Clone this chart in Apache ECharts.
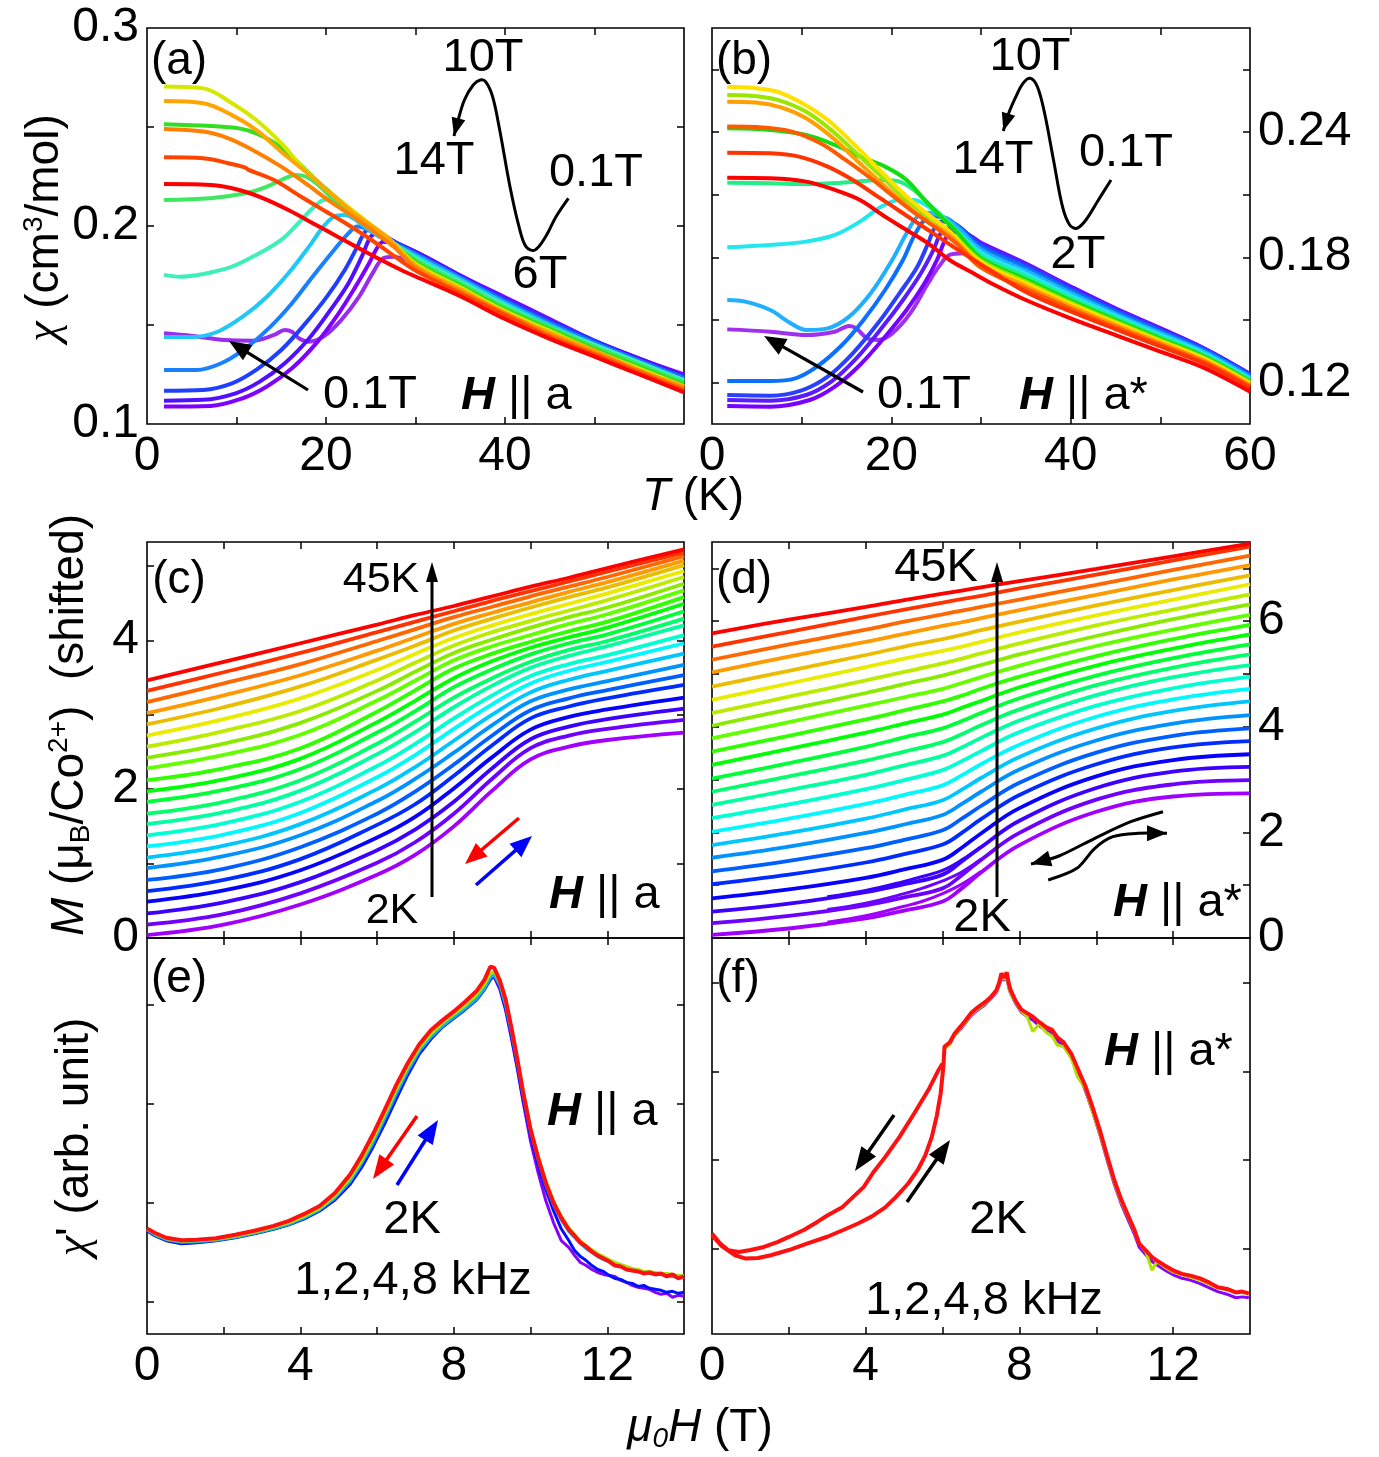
<!DOCTYPE html>
<html><head><meta charset="utf-8">
<script src="https://cdn.jsdelivr.net/npm/echarts@6/dist/echarts.min.js"></script>
<style>html,body{margin:0;padding:0;background:#fff}#chart{width:1379px;height:1457px}</style>
</head><body><div id="chart"></div>
<script>
// ---------------- DATA ----------------
// (a) chi(T), H || a : [T (K), chi (cm3/mol)]
const chiA_p01 = [[1.9,.1458],[5.1,.1445],[8.7,.1424],[11.8,.1421],[14.2,.145],[15.4,.1475],[16.2,.1466],[17,.1432],[18.1,.1416],[19.7,.1441],[21.7,.1525],[23.7,.1643],[25.2,.1761],[26.4,.1837],[27.6,.1845],[29.2,.1828],[29.9,.1828]];
const chiA_violet = [[1.9,.1088],[7.1,.1091],[10.7,.113],[13.4,.1189],[16.2,.1281],[18.9,.1407],[21.3,.1551],[23.3,.1694],[24.8,.1811],[25.8,.1896],[26.4,.1921],[27.4,.1913],[30,.187],[35,.175],[40,.164],[45,.153],[50,.142],[55,.133],[60,.125]];
const chiA_indigo = [[1.9,.1118],[6.3,.1122],[9.9,.1155],[12.6,.1214],[15.4,.1307],[18.1,.1432],[20.5,.1576],[22.5,.171],[24,.1845],[25,.1946],[25.8,.1963],[26.8,.1938],[30,.187],[35,.175],[40,.163],[45,.152],[50,.142],[55,.133],[60,.124]];
const chiA_blue = [[1.9,.1168],[6.3,.1172],[9.5,.1205],[12.2,.1273],[15,.1374],[17.7,.1508],[20.1,.1643],[22.1,.1778],[23.5,.1896],[24.4,.1972],[25.2,.1983],[26.4,.1954],[30,.186],[35,.174],[40,.163],[45,.152],[50,.142],[55,.132],[60,.124]];
const chiA_azure = [[1.9,.1273],[5.5,.1273],[8.3,.1307],[11,.1382],[13.8,.1492],[16.2,.161],[18.5,.1744],[20.9,.1879],[22.5,.1963],[23.5,.1997],[24.4,.1988],[26,.1946],[30,.186],[35,.174],[40,.162],[45,.151],[50,.141],[55,.132],[60,.123]];
const chiA_sky = [[1.9,.144],[5.1,.144],[7.9,.1466],[10.7,.1542],[13.4,.1643],[15.8,.1761],[18.1,.1896],[19.7,.1997],[20.9,.2047],[22.1,.2055],[23.3,.2031],[24.8,.198],[30,.185],[35,.173],[40,.161],[45,.150],[50,.140],[55,.131],[60,.122]];
const chiA_aqua = [[1.9,.1753],[3.6,.1744],[6.3,.1758],[9.5,.1795],[12.2,.1854],[15,.193],[16.9,.2014],[18.5,.209],[19.7,.2131],[20.7,.2135],[21.7,.2106],[23.3,.2047],[24.8,.1997],[30,.184],[35,.172],[40,.160],[45,.149],[50,.140],[55,.131],[60,.122]];
const chiA_green = [[1.9,.2131],[7.1,.214],[11,.2165],[13.4,.2199],[15.4,.2241],[16.6,.2258],[17.7,.225],[18.9,.2216],[20.5,.2148],[22.1,.2081],[23.7,.2031],[25.2,.1988],[30,.183],[35,.171],[40,.159],[45,.149],[50,.139],[55,.130],[60,.121]];
const chiA_lime = [[1.9,.2514],[7.1,.2505],[10.3,.2493],[12.2,.2468],[14.6,.2409],[17,.2316],[19.3,.2216],[21.7,.2123],[23.7,.2047],[25.2,.1997],[30,.182],[35,.170],[40,.158],[45,.148],[50,.138],[55,.129],[60,.120]];
const chiA_yellow = [[1.9,.2704],[6.3,.2695],[9.5,.262],[12.2,.2535],[15,.2418],[17.3,.23],[20.1,.2182],[22.9,.2081],[24.8,.2014],[27.3,.1925],[30,.181],[35,.169],[40,.157],[45,.147],[50,.137],[55,.128],[60,.119]];
const chiA_orange = [[1.9,.2631],[6.3,.262],[9.5,.256],[12.2,.2485],[15,.2375],[17.7,.2275],[20.5,.2165],[22.9,.2072],[25.2,.1997],[26.8,.1944],[30,.180],[35,.168],[40,.156],[45,.146],[50,.137],[55,.127],[60,.119]];
const chiA_dkorange = [[1.9,.249],[6.3,.2477],[9.1,.2443],[11.8,.2384],[15,.23],[17.7,.2216],[20.5,.2123],[23.3,.2039],[25.6,.1963],[27.6,.1894],[30,.179],[35,.167],[40,.156],[45,.145],[50,.136],[55,.127],[60,.118]];
const chiA_redorange = [[1.9,.2347],[6.3,.2342],[9.1,.2317],[11,.2295],[11.3,.2285],[14.2,.2232],[16.9,.2157],[19.7,.2081],[22.5,.2005],[24.8,.1938],[27.2,.1862],[30,.1775],[35,.166],[40,.155],[45,.144],[50,.135],[55,.126],[60,.117]];
const chiA_red = [[1.9,.2212],[7.1,.2207],[10.3,.2182],[13,.214],[15.8,.2081],[18.9,.2005],[21.3,.1946],[23.7,.1887],[26,.1832],[28.4,.1778],[30,.1745],[35,.1645],[40,.153],[45,.143],[50,.134],[55,.125],[60,.116]];

// (b) chi(T), H || a*
const chiB_yellow = [[1.7,.2618],[4.5,.2613],[7.3,.2594],[10.1,.2538],[12.9,.2459],[15.7,.2347],[18.5,.2227],[21.3,.2107],[23.7,.2019],[26.1,.1939],[30,.1776],[35,.1674],[40,.1575],[45,.1485],[50,.1397],[55,.131],[60,.1195]];
const chiB_ygreen = [[1.7,.2578],[4.5,.2574],[7.3,.2555],[10.5,.2498],[13.3,.241],[16.1,.2299],[18.9,.2187],[21.7,.2075],[24.1,.1995],[26.5,.1923],[30,.1785],[35,.1683],[40,.1583],[45,.1491],[50,.1403],[55,.1315],[60,.1199]];
const chiB_orange = [[1.7,.2546],[4.9,.2542],[7.7,.2519],[10.5,.2467],[13.3,.2379],[16.1,.2267],[18.9,.2155],[21.7,.2051],[24.1,.1971],[26.5,.1907],[30,.1764],[35,.1662],[40,.1565],[45,.1476],[50,.139],[55,.1303],[60,.1188]];
const chiB_ored = [[1.7,.2427],[5.7,.2423],[8.9,.2403],[12.1,.2347],[14.9,.2267],[17.7,.2179],[20.5,.2083],[22.9,.2003],[25.3,.1931],[27.3,.1865],[30,.175],[35,.1648],[40,.1553],[45,.1465],[50,.1381],[55,.1296],[60,.1181]];
const chiB_green = [[1.7,.2419],[6.5,.2411],[10.5,.2387],[13.7,.2339],[16.5,.2283],[19.3,.2235],[21.7,.2171],[23.7,.2075],[25.7,.1987],[27.3,.1921],[30,.1795],[35,.1694],[40,.1592],[45,.1499],[50,.141],[55,.1321],[60,.1204]];
const chiB_rorange = [[1.7,.2302],[6.5,.2299],[9.7,.2283],[12.9,.2235],[15.7,.2171],[18.5,.2091],[21.3,.2011],[24.1,.1931],[26.5,.1862],[28.9,.1795],[30,.1765],[35,.1634],[40,.154],[45,.1455],[50,.1372],[55,.1288],[60,.1174]];
const chiB_red = [[1.7,.2182],[6.5,.2179],[10.5,.2163],[13.7,.2123],[16.5,.2075],[19.3,.1995],[21.7,.1931],[24.1,.1867],[26.5,.1787],[28.9,.1729],[31.3,.1672],[35,.1595],[40,.1507],[45,.1427],[50,.1347],[55,.1267],[60,.1155]];
const chiB_spring = [[1.7,.2158],[6.5,.2155],[10.5,.2151],[14.5,.2158],[17.3,.2167],[19.3,.2171],[20.9,.2163],[22.5,.2123],[24.5,.2043],[26.5,.1963],[30,.1808],[35,.1708],[40,.1604],[45,.1509],[50,.1419],[55,.1328],[60,.1211]];
const chiB_cyan = [[1.7,.1848],[6.5,.1859],[10.5,.1875],[13.7,.1907],[16.5,.1971],[18.9,.2043],[20.9,.2075],[22.5,.2075],[24.1,.2043],[26.1,.1979],[30,.1822],[35,.1722],[40,.1616],[45,.1519],[50,.1428],[55,.1336],[60,.1218]];
const chiB_sky = [[1.7,.1595],[3.7,.1587],[6.5,.1547],[8.5,.1491],[10.5,.1451],[12.9,.1459],[15.3,.1515],[17.7,.1627],[20.1,.1787],[21.7,.1915],[22.9,.1995],[24.1,.2014],[25.7,.1995],[27.3,.1947],[30,.1836],[35,.1736],[40,.1629],[45,.1529],[50,.1437],[55,.1344],[60,.1225]];
const chiB_p01 = [[1.7,.1454],[6.5,.1443],[10.5,.1427],[13.7,.1443],[15.3,.147],[16.1,.1459],[17.3,.1411],[18.5,.1403],[20.1,.1435],[22.1,.1531],[24.1,.1675],[25.3,.1755],[26.5,.1811],[28.1,.1819],[29.7,.1803],[31.3,.1771]];
const chiB_azure = [[1.7,.1206],[6.5,.1206],[9.3,.1219],[11.7,.1275],[14.5,.1379],[16.9,.1499],[19.3,.1643],[21.3,.1787],[22.5,.1899],[23.7,.1979],[24.9,.1995],[26.5,.1979],[30,.1849],[35,.175],[40,.1641],[45,.154],[50,.1446],[55,.1351],[60,.1232]];
const chiB_blue = [[1.7,.1139],[6.5,.1136],[10.1,.1163],[12.9,.1227],[15.7,.1339],[18.5,.1483],[20.9,.1627],[22.9,.1755],[24.1,.1867],[24.9,.1947],[25.7,.1971],[27.3,.1955],[30,.1858],[35,.1759],[40,.1648],[45,.1546],[50,.1451],[55,.1356],[60,.1237]];
const chiB_indigo = [[1.7,.1115],[6.5,.1112],[10.5,.1139],[13.3,.1203],[16.1,.1315],[18.9,.1459],[21.3,.1595],[23.3,.1723],[24.7,.1835],[25.5,.1915],[26.3,.1939],[27.7,.1931],[30,.1865],[35,.1766],[40,.1655],[45,.1551],[50,.1456],[55,.136],[60,.124]];
const chiB_violet = [[1.7,.1086],[6.5,.1083],[10.9,.1115],[13.7,.1179],[16.5,.1283],[19.3,.1419],[21.7,.1547],[23.7,.1675],[25.1,.1787],[25.9,.1875],[26.5,.1915],[27.7,.1923],[30,.187],[35,.177],[40,.166],[45,.1555],[50,.146],[55,.136],[60,.124]];

// (c) M(H), H || a, shifted; rows from 2 K (bottom) to 45 K (top)
const fieldC = [0,2,4,6,7,8,9,10,11,12,14];
const magC = [
 [0.04,0.18,0.45,0.85,1.12,1.50,1.98,2.40,2.57,2.66,2.76],
 [0.18,0.32,0.60,1.01,1.29,1.67,2.14,2.55,2.72,2.81,2.93],
 [0.33,0.48,0.75,1.18,1.46,1.83,2.28,2.67,2.84,2.94,3.08],
 [0.49,0.64,0.91,1.35,1.63,2.01,2.43,2.80,2.97,3.07,3.23],
 [0.63,0.78,1.06,1.52,1.80,2.18,2.59,2.95,3.11,3.22,3.40],
 [0.78,0.93,1.22,1.67,1.97,2.33,2.72,3.06,3.22,3.33,3.53],
 [0.94,1.10,1.38,1.84,2.14,2.49,2.86,3.18,3.34,3.45,3.67],
 [1.08,1.24,1.53,2.00,2.30,2.65,3.00,3.30,3.47,3.59,3.82],
 [1.23,1.39,1.68,2.16,2.46,2.81,3.14,3.42,3.59,3.71,3.96],
 [1.38,1.54,1.83,2.31,2.61,2.95,3.26,3.52,3.68,3.80,4.07],
 [1.53,1.69,1.98,2.47,2.77,3.10,3.39,3.63,3.79,3.92,4.20],
 [1.67,1.83,2.12,2.61,2.91,3.23,3.49,3.71,3.87,3.99,4.29],
 [1.83,1.99,2.27,2.76,3.05,3.37,3.61,3.81,3.96,4.08,4.39],
 [1.97,2.13,2.41,2.90,3.19,3.49,3.72,3.90,4.04,4.17,4.49],
 [2.12,2.28,2.55,3.04,3.33,3.62,3.82,3.98,4.12,4.25,4.58],
 [2.28,2.46,2.73,3.19,3.46,3.73,3.92,4.07,4.22,4.35,4.67],
 [2.42,2.61,2.89,3.32,3.58,3.83,4.01,4.17,4.31,4.44,4.76],
 [2.57,2.78,3.05,3.46,3.70,3.93,4.11,4.26,4.40,4.54,4.85],
 [2.72,2.94,3.22,3.60,3.82,4.03,4.20,4.35,4.49,4.63,4.93],
 [2.87,3.10,3.38,3.74,3.93,4.13,4.29,4.44,4.58,4.71,5.01],
 [3.02,3.26,3.53,3.86,4.04,4.22,4.37,4.51,4.65,4.78,5.07],
 [3.17,3.42,3.68,3.99,4.15,4.31,4.45,4.59,4.72,4.85,5.13],
 [3.32,3.57,3.83,4.11,4.25,4.39,4.53,4.66,4.79,4.92,5.18],
 [3.46,3.71,3.96,4.21,4.34,4.46,4.59,4.72,4.84,4.97,5.22]
];

// (d) M(H), H || a*, shifted
const fieldD = [0,2,4,5,6,6.5,7,8,10,12,14];
const magD = [
 [0.06,0.18,0.37,0.52,0.69,0.94,1.24,1.76,2.39,2.68,2.74],
 [0.28,0.42,0.62,0.77,0.94,1.19,1.48,1.99,2.62,2.91,2.99],
 [0.50,0.65,0.87,1.02,1.20,1.45,1.72,2.22,2.84,3.15,3.24],
 [0.75,0.92,1.14,1.30,1.48,1.71,1.98,2.46,3.06,3.37,3.48],
 [1.02,1.20,1.43,1.59,1.77,1.99,2.25,2.71,3.29,3.61,3.73],
 [1.26,1.46,1.70,1.86,2.04,2.26,2.50,2.94,3.51,3.83,3.97],
 [1.52,1.73,1.99,2.15,2.33,2.54,2.77,3.19,3.74,4.06,4.22],
 [1.76,1.99,2.26,2.43,2.61,2.81,3.03,3.43,3.97,4.30,4.48],
 [2.01,2.26,2.54,2.71,2.89,3.08,3.29,3.66,4.19,4.52,4.72],
 [2.27,2.53,2.82,2.99,3.18,3.35,3.54,3.90,4.40,4.73,4.95],
 [2.52,2.80,3.09,3.27,3.45,3.61,3.79,4.12,4.60,4.94,5.17],
 [2.77,3.06,3.36,3.53,3.71,3.86,4.03,4.33,4.79,5.12,5.37],
 [3.02,3.31,3.62,3.80,3.97,4.11,4.26,4.54,4.97,5.30,5.56],
 [3.28,3.58,3.89,4.06,4.23,4.36,4.49,4.75,5.16,5.48,5.75],
 [3.53,3.83,4.14,4.31,4.48,4.59,4.72,4.95,5.34,5.66,5.93],
 [3.78,4.09,4.40,4.56,4.72,4.83,4.94,5.16,5.53,5.84,6.12],
 [4.02,4.33,4.64,4.81,4.97,5.07,5.17,5.37,5.72,6.04,6.32],
 [4.26,4.57,4.88,5.04,5.20,5.29,5.39,5.58,5.92,6.22,6.51],
 [4.51,4.82,5.13,5.29,5.44,5.52,5.61,5.79,6.11,6.41,6.70],
 [4.76,5.06,5.36,5.52,5.66,5.74,5.83,5.99,6.30,6.59,6.87],
 [5.03,5.33,5.61,5.76,5.91,5.98,6.06,6.21,6.50,6.79,7.06],
 [5.27,5.56,5.84,5.99,6.13,6.20,6.27,6.41,6.69,6.97,7.24],
 [5.52,5.80,6.08,6.22,6.35,6.42,6.48,6.62,6.88,7.15,7.41],
 [5.77,6.03,6.27,6.40,6.52,6.58,6.64,6.76,6.99,7.23,7.47]
];
// down-sweep branches of the lowest curves in (d)
const fieldDloop = [3,4,5,5.5,6,6.5,7];
const magDloop = [
 [0.30,0.42,0.60,0.70,0.84,1.02,1.26],
 [0.54,0.66,0.84,0.95,1.08,1.25,1.49],
 [0.78,0.90,1.07,1.17,1.28,1.48,1.73]
];

// (e) chi'(H), H || a (arb. unit)
const fieldE = [0,0.2,0.5,0.9,1.3,1.8,2.3,2.8,3.3,3.7,4.1,4.5,4.9,5.3,5.6,5.9,6.2,6.5,6.8,7.1,7.4,7.7,8.0,8.3,8.6,8.8,8.95,9.05,9.2,9.35,9.5,9.65,9.8,10.0,10.2,10.4,10.6,10.8,11.0,11.15,11.3,11.45,11.6,11.75,11.9,12.05,12.2,12.35,12.5,12.65,12.8,12.95,13.1,13.25,13.4,13.55,13.7,13.85,14.0];
const chiE_red = [.742,.70,.65,.625,.63,.645,.68,.72,.77,.82,.89,.97,1.10,1.29,1.48,1.70,1.94,2.19,2.41,2.60,2.74,2.84,2.93,3.03,3.14,3.25,3.38,3.37,3.24,3.05,2.77,2.46,2.13,1.74,1.45,1.20,1.00,0.85,0.73,0.67,0.60,0.56,0.51,0.47,0.44,0.41,0.37,0.36,0.33,0.32,0.31,0.29,0.30,0.28,0.29,0.26,0.28,0.24,0.26];
const chiE_ygreen = [.735,.69,.64,.615,.62,.635,.665,.705,.755,.80,.865,.945,1.07,1.25,1.43,1.65,1.89,2.14,2.37,2.56,2.70,2.81,2.90,2.99,3.10,3.20,3.31,3.33,3.22,3.03,2.76,2.46,2.14,1.76,1.47,1.22,1.02,0.87,0.75,0.68,0.62,0.57,0.53,0.49,0.46,0.43,0.40,0.38,0.36,0.34,0.33,0.31,0.31,0.30,0.29,0.29,0.28,0.27,0.27];
const chiE_cyan = [.73,.68,.63,.605,.61,.625,.655,.695,.74,.785,.85,.93,1.05,1.22,1.40,1.61,1.85,2.10,2.33,2.53,2.67,2.78,2.87,2.96,3.06,3.16,3.27,3.30,3.19,2.99,2.72,2.42,2.10,1.72,1.43,1.18,0.98,0.83,0.71,0.65,0.59,0.54,0.50,0.46,0.43,0.41,0.38,0.36,0.34,0.33,0.31,0.30,0.29,0.28,0.28,0.27,0.26,0.25,0.25];
const chiE_blue = [.72,.67,.62,.59,.60,.62,.65,.69,.735,.78,.84,.92,1.03,1.19,1.36,1.57,1.80,2.05,2.29,2.50,2.65,2.77,2.86,2.95,3.05,3.15,3.25,3.29,3.17,2.96,2.68,2.38,2.05,1.68,1.38,1.13,0.92,0.74,0.62,0.52,0.46,0.42,0.37,0.33,0.31,0.27,0.24,0.23,0.20,0.19,0.16,0.17,0.14,0.13,0.12,0.10,0.11,0.09,0.10];
const chiE_violet = [.725,.675,.625,.595,.605,.625,.655,.695,.74,.785,.845,.925,1.04,1.20,1.37,1.58,1.82,2.07,2.31,2.52,2.66,2.78,2.87,2.96,3.06,3.16,3.26,3.28,3.15,2.94,2.66,2.36,2.03,1.62,1.30,1.02,0.80,0.62,0.55,0.47,0.40,0.37,0.33,0.30,0.28,0.27,0.26,0.22,0.20,0.17,0.15,0.14,0.13,0.10,0.08,0.09,0.05,0.07,0.06];

// (f) chi'(H), H || a*
const fieldF_up = [0,0.23,0.6,0.88,1.2,1.53,2.0,2.47,3.0,3.4,3.8,4.14,4.5,4.79,5.1,5.35,5.55,5.72,5.85,5.95,6.02];
const chiF_up = [0.147,0.034,-0.079,-0.117,-0.11,-0.079,-0.02,0.053,0.13,0.204,0.28,0.355,0.46,0.581,0.73,0.883,1.05,1.26,1.5,1.75,2.05];
const fieldF_down = [6.0,5.9,5.63,5.26,4.88,4.51,4.2,3.95,3.6,3.4,3.0,2.74,2.4,2.0,1.7,1.35,1.0,0.7,0.42,0.2,0.0];
const chiF_down = [2.09,2.02,1.79,1.525,1.26,1.034,0.86,0.695,0.55,0.468,0.37,0.298,0.21,0.128,0.07,0.015,-0.02,-0.042,-0.023,0.06,0.166];
const fieldF_high = [6.05,6.19,6.3,6.47,6.6,6.74,6.9,7.12,7.25,7.4,7.47,7.53,7.6,7.67,7.72,7.77,7.9,8.05,8.2,8.35,8.51,8.7,8.85,8.98,9.15,9.35,9.5,9.72,9.9,10.09,10.28,10.47,10.65,10.84,11.0,11.12,11.3,11.45,11.58,11.8,12.0,12.23,12.45,12.7,12.9,13.16,13.4,13.63,13.8,13.97];
const chiF_red_high = [2.28,2.33,2.42,2.51,2.58,2.66,2.72,2.79,2.84,2.92,3.0,3.11,3.06,3.12,3.0,2.92,2.80,2.70,2.66,2.62,2.56,2.50,2.47,2.39,2.33,2.20,2.05,1.83,1.60,1.34,1.05,0.77,0.55,0.36,0.20,0.05,-0.03,-0.10,-0.14,-0.20,-0.25,-0.29,-0.31,-0.34,-0.38,-0.44,-0.46,-0.50,-0.49,-0.51];
const chiF_ygreen_high = [2.26,2.31,2.40,2.49,2.56,2.64,2.70,2.77,2.83,2.90,2.98,3.08,3.04,3.08,2.96,2.88,2.78,2.68,2.62,2.45,2.54,2.44,2.40,2.30,2.28,2.15,1.95,1.80,1.55,1.30,1.02,0.74,0.52,0.34,0.18,0.05,-0.05,-0.25,-0.15,-0.22,-0.27,-0.30,-0.33,-0.36,-0.40,-0.45,-0.47,-0.50,-0.50,-0.52];
const chiF_violet_high = [2.26,2.31,2.40,2.48,2.55,2.63,2.69,2.76,2.82,2.89,2.97,3.06,3.03,3.07,2.95,2.88,2.77,2.67,2.62,2.58,2.52,2.46,2.43,2.35,2.29,2.16,2.01,1.78,1.55,1.29,1.00,0.72,0.50,0.31,0.15,0.01,-0.08,-0.15,-0.19,-0.25,-0.30,-0.34,-0.36,-0.40,-0.44,-0.49,-0.52,-0.56,-0.55,-0.56];

// ---------------- STYLE ----------------
const FONT = '"Liberation Sans", Arial, Helvetica, sans-serif';
const TICKF = 48, ANNF = 47;
const colorsA = ['#9a2cf0','#8000ff','#4f10ff','#1f3fff','#1a80ff','#1fc8f5','#3ef0b8','#3ee860','#33dd22','#d5e800','#ffa500','#ff7f00','#ff4400','#ff0000'];
const curvesA = [chiA_p01,chiA_violet,chiA_indigo,chiA_blue,chiA_azure,chiA_sky,chiA_aqua,chiA_green,chiA_lime,chiA_yellow,chiA_orange,chiA_dkorange,chiA_redorange,chiA_red];
const curvesB = [chiB_p01,chiB_violet,chiB_indigo,chiB_blue,chiB_azure,chiB_sky,chiB_cyan,chiB_spring,chiB_green,chiB_ygreen,chiB_yellow,chiB_orange,chiB_ored,chiB_rorange,chiB_red];
const colorsB = ['#a030f0','#7a00ff','#5a1cff','#2a40ff','#0a70ff','#20b0ff','#22e8ee','#22ee88','#11dd11','#99e600','#ffe000','#ffa000','#ff5a00','#ff3300','#ff0000'];
function rainbow(i, n) {
  const h = 278 * (1 - i / (n - 1));
  const l = (h > 40 && h < 90) ? 46 : 50;
  return 'hsl(' + h.toFixed(1) + ',100%,' + l + '%)';
}

const grids = [
  {left:147, top:28, width:537, height:396},
  {left:712, top:28, width:538, height:396},
  {left:147, top:542, width:537, height:396},
  {left:712, top:542, width:538, height:396},
  {left:147, top:938, width:537, height:396},
  {left:712, top:938, width:538, height:396}
].map(g => Object.assign(g, {show:true, borderColor:'#000', borderWidth:1.6, backgroundColor:'rgba(0,0,0,0)'}));

const tickStyle = {show:true, inside:true, length:7, lineStyle:{color:'#000', width:1.5}};
function xAxes(gi, min, max, ticks, labels) {
  const base = {type:'value', gridIndex:gi, min, max, axisLine:{show:false, onZero:false}, splitLine:{show:false},
    axisTick:Object.assign({customValues:ticks}, tickStyle)};
  return [
    Object.assign({}, base, {position:'bottom', axisLabel:{show:!!labels, customValues:labels||[], margin:9,
      fontSize:TICKF, fontFamily:FONT, color:'#000', formatter:v=>String(v)}}),
    Object.assign({}, base, {position:'top', axisLabel:{show:false}})
  ];
}
function yAxes(gi, min, max, ticks, labels, side, fmt) {
  const base = {type:'value', gridIndex:gi, min, max, axisLine:{show:false, onZero:false}, splitLine:{show:false},
    axisTick:Object.assign({customValues:ticks}, tickStyle)};
  const lab = {show:!!labels, customValues:labels||[], margin:8, fontSize:TICKF, fontFamily:FONT, color:'#000', formatter:fmt||(v=>String(v))};
  return [
    Object.assign({}, base, {position:'left', axisLabel: side==='left' ? lab : {show:false}}),
    Object.assign({}, base, {position:'right', axisLabel: side==='right' ? lab : {show:false}})
  ];
}
const xAxis = [].concat(
  xAxes(0, 0, 60, [10,20,30,40,50], [0,20,40]),
  xAxes(1, 0, 60, [10,20,30,40,50], [0,20,40,60]),
  xAxes(2, 0, 14, [2,4,6,8,10,12], null),
  xAxes(3, 0, 14, [2,4,6,8,10,12], null),
  xAxes(4, 0, 14, [2,4,6,8,10,12], [0,4,8,12]),
  xAxes(5, 0, 14, [2,4,6,8,10,12], [0,4,8,12])
);
const yAxis = [].concat(
  yAxes(0, 0.1, 0.3, [0.15,0.2,0.25], [0.1,0.2,0.3], 'left', v=>v.toFixed(1)),
  yAxes(1, 0.1, 0.29, [0.12,0.15,0.18,0.21,0.24,0.27], [0.12,0.18,0.24], 'right', v=>v.toFixed(2)),
  yAxes(2, 0, 5.32, [1,2,3,4,5], [0,2,4], 'left'),
  yAxes(3, 0, 7.5, [1,2,3,4,5,6,7], [0,2,4,6], 'right'),
  yAxes(4, -0.32, 3.67, [0,1,2,3], null, 'left'),
  yAxes(5, -0.97, 3.51, [0,1,2,3], null, 'left')
);

const series = [];
function line(gi, data, color, width, smooth, z) {
  series.push({type:'line', xAxisIndex:2*gi, yAxisIndex:2*gi, data, showSymbol:false, symbol:'none',
    smooth: smooth, silent:true, animation:false, z: z||2,
    lineStyle:{color, width}});
}
curvesA.forEach((c,i)=>line(0, c, colorsA[i], 4, 0.35));
curvesB.forEach((c,i)=>line(1, c, colorsB[i], 4, 0.35));
magC.forEach((row,i)=>line(2, fieldC.map((h,k)=>[h,row[k]]), rainbow(i, magC.length), 3.8, 0.4));
magDloop.forEach((row,i)=>line(3, fieldDloop.map((h,k)=>[h,row[k]]), rainbow(i, magD.length), 3.0, 0.4));
magD.forEach((row,i)=>line(3, fieldD.map((h,k)=>[h,row[k]]), rainbow(i, magD.length), 3.8, 0.4));
const eList = [[chiE_violet,'#8a00ff'],[chiE_blue,'#0010ff'],[chiE_cyan,'#10b0e8'],[chiE_ygreen,'#a8e000'],[chiE_red,'#ff1010']];
eList.forEach(([arr,col],k)=>line(4, fieldE.map((h,j)=>[h,arr[j]]), col, k===4?4:3, false, 2+k));
line(5, fieldF_high.map((h,j)=>[h,chiF_violet_high[j]]), '#8a00ff', 3, false, 2);
line(5, fieldF_high.map((h,j)=>[h,chiF_ygreen_high[j]]), '#b0e000', 3, false, 3);
line(5, fieldF_up.map((h,j)=>[h,chiF_up[j]]).concat(fieldF_high.map((h,j)=>[h,chiF_red_high[j]])), '#ff1010', 4, false, 4);
line(5, fieldF_down.map((h,j)=>[h,chiF_down[j]]), '#ff1010', 4, false, 4);

// ---------------- ANNOTATIONS ----------------
const G = [];
function txt(x, y, text, size, align, rich) {
  const st = {text, fill:'#000', fontSize:size, fontFamily:FONT, align:align||'center', verticalAlign:'middle',
    textAlign:align||'center', textVerticalAlign:'middle'};
  if (rich) st.rich = rich;
  G.push({type:'text', x, y, z:100, style:st});
}
function head(tip, from, len, wid, color) {
  const dx = tip[0]-from[0], dy = tip[1]-from[1], L = Math.hypot(dx,dy), ux = dx/L, uy = dy/L;
  const bx = tip[0]-ux*len, by = tip[1]-uy*len;
  G.push({type:'polygon', z:100, shape:{points:[[tip[0],tip[1]],[bx-uy*wid/2, by+ux*wid/2],[bx+uy*wid/2, by-ux*wid/2]]}, style:{fill:color, stroke:null}});
}
function arrow(x1,y1,x2,y2,color,lw,len,wid) {
  const dx=x2-x1, dy=y2-y1, L=Math.hypot(dx,dy), ux=dx/L, uy=dy/L;
  G.push({type:'line', z:100, shape:{x1,y1,x2:x2-ux*len*0.7,y2:y2-uy*len*0.7}, style:{stroke:color, lineWidth:lw}});
  head([x2,y2],[x1,y1],len,wid,color);
}
function curve(points, color, lw, len, wid, smooth) {
  G.push({type:'polyline', z:100, shape:{points, smooth: smooth==null?0.4:smooth}, style:{stroke:color, lineWidth:lw, fill:null}});
  const n = points.length;
  head(points[n-1], points[n-2], len, wid, color);
}
const hRich = (size) => ({h:{fontSize:size, fontFamily:FONT, fontWeight:'bold', fontStyle:'italic', fill:'#000'},
  n:{fontSize:size, fontFamily:FONT, fill:'#000'}});

// (a)
txt(179, 61, '(a)', 46);
txt(483, 58, '10T', ANNF); txt(434, 161, '14T', ANNF); txt(596, 173, '0.1T', ANNF); txt(540, 275, '6T', ANNF);
curve([[568.4,198.3],[556,216.7],[545.6,236.7],[535,250],[526,246.7],[519,226.7],[510,186.7],[499.7,130],[492.6,96.7],[485.6,81.7],[480.3,80],[473.2,85],[464.4,100],[457.6,122],[454,136]], '#000', 3, 18, 14, 0.35);
txt(370, 395, '0.1T', ANNF);
arrow(308, 390, 229, 341, '#000', 3.2, 22, 18);
txt(461, 396, '{h|H}{n| || a}', ANNF, 'left', hRich(ANNF));
// (b)
txt(744, 61, '(b)', 46);
txt(1030, 57, '10T', ANNF); txt(993, 160, '14T', ANNF); txt(1126, 153, '0.1T', ANNF); txt(1078, 255, '2T', ANNF);
curve([[1111,180],[1098.4,200],[1085.9,220],[1076.9,228.3],[1069.7,225],[1062.5,206.7],[1053.5,160],[1044.6,113.3],[1037.4,86.7],[1030.2,78.3],[1023,83.3],[1015.9,96.7],[1008.7,113.3],[1003.3,131]], '#000', 3, 18, 14, 0.35);
txt(924, 395, '0.1T', ANNF);
arrow(863, 392, 764, 336, '#000', 3.2, 22, 18);
txt(1019, 396, '{h|H}{n| || a*}', ANNF, 'left', hRich(ANNF));
// (c)
txt(179, 580, '(c)', 46);
txt(381, 580, '45K', 43); txt(392, 911, '2K', 43);
arrow(432, 897, 432, 562, '#000', 3, 20, 12);
arrow(519, 818, 465, 864, '#ff0000', 3.5, 22, 18);
arrow(476, 885, 532, 836, '#0000ff', 3.5, 22, 18);
txt(549, 895, '{h|H}{n| || a}', ANNF, 'left', hRich(ANNF));
// (d)
txt(744, 580, '(d)', 46);
txt(936, 568, '45K', ANNF); txt(982, 918, '2K', ANNF);
arrow(997, 897, 997, 562, '#000', 3, 20, 12);
curve([[1163,811.7],[1130.8,821.7],[1094.8,838.3],[1059,856],[1031,864]], '#000', 3, 20, 16, 0.3);
curve([[1048.2,880],[1076.9,868.3],[1094.8,848.3],[1112.8,836.7],[1137.9,833.3],[1167,833.3]], '#000', 3, 20, 16, 0.3);
txt(1113, 903, '{h|H}{n| || a*}', ANNF, 'left', hRich(ANNF));
// (e)
txt(179, 979, '(e)', 46);
txt(547, 1112, '{h|H}{n| || a}', ANNF, 'left', hRich(ANNF));
arrow(417, 1116, 373, 1179, '#ff0000', 3.5, 24, 18);
arrow(397, 1185, 438, 1120, '#0000ff', 3.5, 24, 18);
txt(412, 1220, '2K', ANNF);
txt(413, 1281, '1,2,4,8 kHz', ANNF);
// (f)
txt(738, 979, '(f)', 46);
txt(1104, 1052, '{h|H}{n| || a*}', ANNF, 'left', hRich(ANNF));
arrow(894, 1115, 855, 1171, '#000', 3.5, 24, 18);
arrow(907, 1202, 950, 1140, '#000', 3.5, 24, 18);
txt(998, 1220, '2K', ANNF);
txt(984, 1301, '1,2,4,8 kHz', ANNF);

// axis titles
const TF = 46;
const titleRich = {
  i:{fontSize:TF, fontFamily:'"Liberation Serif", "DejaVu Serif", serif', fontStyle:'italic', fill:'#000'},
  si:{fontSize:TF, fontFamily:FONT, fontStyle:'italic', fill:'#000'},
  n:{fontSize:TF, fontFamily:FONT, fill:'#000'},
  s:{fontSize:28, fontFamily:FONT, fill:'#000', verticalAlign:'top', lineHeight:50},
  b:{fontSize:28, fontFamily:FONT, fill:'#000', verticalAlign:'bottom', lineHeight:50},
  bi:{fontSize:28, fontFamily:FONT, fontStyle:'italic', fill:'#000', verticalAlign:'bottom', lineHeight:50}
};
function title(x, y, text, rot) {
  G.push({type:'text', x, y, rotation: rot||0, z:100,
    style:{text, rich:titleRich, fontSize:TF, fontFamily:FONT, fill:'#000', lineHeight:50,
      align:'center', verticalAlign:'middle', textAlign:'center', textVerticalAlign:'middle'}});
}
title(45, 228, '{i|χ}{n| (cm}{s|3}{n|/mol)}', Math.PI/2);
title(70, 725, '{si|M}{n| (μ}{b|B}{n|/Co}{s|2+}{n|)  (shifted)}', Math.PI/2);
title(75, 1137, '{i|χ}{n|\' (arb. unit)}', Math.PI/2);
title(693, 497, '{si|T}{n| (K)}', 0);
title(700, 1428, '{si|μ}{bi|0}{si|H}{n| (T)}', 0);

const chart = echarts.init(document.getElementById('chart'), null, {renderer:'canvas'});
chart.setOption({animation:false, backgroundColor:'#fff', grid:grids, xAxis, yAxis, series, graphic:{elements:G}});
</script></body></html>
